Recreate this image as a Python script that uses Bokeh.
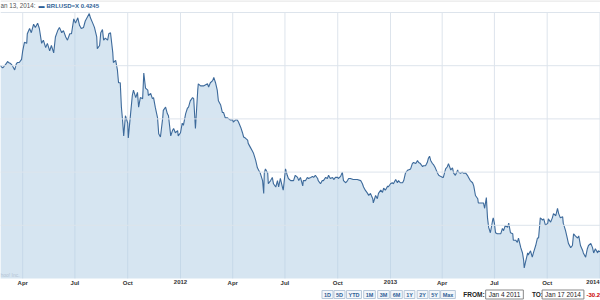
import pandas as pd
from bokeh.plotting import figure
from bokeh.models import Range1d, Label, Span
from bokeh.core.properties import value
from bokeh.embed import file_html
from bokeh.resources import INLINE

# ---------------- data ----------------
base_date = "2011-01-01"
day_offsets = [
    51, 55, 57, 60, 64, 65, 69, 72, 76, 79,
    81, 84, 88, 90, 93, 97, 98, 102, 105, 109,
    112, 116, 119, 123, 126, 130, 133, 137, 140, 144,
    147, 151, 154, 158, 161, 165, 168, 172, 175, 179,
    182, 186, 189, 192, 196, 199, 203, 206, 208, 212,
    215, 219, 220, 224,
    226, 229, 231, 234, 238, 240, 243, 247, 248, 252,
    255, 257, 260, 262, 264, 266, 269, 273, 274, 278,
    281, 283, 287, 290, 292, 295, 299, 301, 304, 308,
    309, 313, 316, 318, 321, 325, 327, 330, 334, 335,
    339, 342, 344, 348, 351, 353, 356, 360, 361, 365,
    368, 370, 374, 377, 379, 382, 386, 388, 391, 395,
    396, 400,
    405, 412, 414, 417, 421, 423, 426, 429, 431, 435,
    438, 440, 443, 447, 449, 452, 456, 457, 461, 464,
    466, 470, 473, 475, 478, 482, 483, 487, 490, 492,
    496, 499, 501, 504, 508, 510, 511, 513, 517, 518,
    522, 525, 527, 531, 534, 536, 539, 543, 544, 548,
    551, 553, 557, 562, 565, 569, 571, 574,
    578, 579, 583, 586, 588, 592, 595, 597, 600, 604,
    605, 609, 612, 614, 618, 621, 623, 626, 630, 632,
    635, 639, 640, 644, 647, 649, 653, 656, 658, 661,
    666, 673, 679, 682, 684, 687, 691, 693, 696, 700,
    701, 705, 708, 710, 714, 717, 719, 722, 726, 727,
    731, 734, 736, 740, 743, 745, 748,
    752, 754, 757, 761, 762, 766, 769, 771, 775, 778,
    780, 783, 787, 788, 792, 795, 797, 799, 801, 804,
    806, 809, 813, 815, 818, 822, 823, 827, 830, 832,
    836, 839, 841, 844, 848, 849, 853, 856, 858, 862,
    865, 867, 870, 874, 876, 879, 883, 884, 888, 891,
    893, 895, 898, 900, 902, 905, 909, 910, 912, 914,
    917, 919, 923,
    926, 928, 931, 935, 937, 940, 944, 945, 949, 952,
    954, 958, 961, 963, 964, 966, 970, 971, 975, 978,
    980, 984, 987, 989, 992, 996, 998, 1001, 1005, 1006,
    1010, 1013, 1015, 1019, 1022, 1024, 1027, 1031, 1032, 1036,
    1039, 1041, 1045, 1048, 1050, 1053, 1057, 1059, 1062, 1066,
    1067, 1071, 1074, 1076, 1080, 1083, 1085, 1088, 1092, 1093, 1097,
    1108,
]
brl_usd = [
    .600, .598, .599, .601, .604, .603, .602, .600, .596, .602,
    .603, .603, .606, .614, .622, .621, .630, .635, .631, .639,
    .636, .640, .635, .621, .624, .617, .621, .614, .619, .612,
    .627, .633, .636, .631, .633, .627, .624, .630, .630, .644,
    .640, .645, .638, .635, .636, .642, .646, .649, .645, .640,
    .636, .627, .616, .619,
    .631, .634, .624, .626, .624, .630, .631, .612, .603, .605,
    .596, .584, .584, .561, .549, .534, .553, .546, .532, .555,
    .572, .577, .570, .575, .561, .570, .569, .593, .579, .577,
    .572, .574, .569, .570, .561, .551, .536, .533, .551, .558,
    .561, .555, .553, .534, .539, .541, .537, .539, .534, .537,
    .546, .544, .555, .560, .561, .567, .570, .569, .541, .577,
    .583, .581,
    .581, .583, .580, .584, .586, .589, .584, .577, .567, .563,
    .556, .556, .551, .551, .550, .549, .549, .547, .549, .549,
    .547, .542, .537, .533, .532, .530, .527, .523, .520, .518,
    .511, .504, .502, .499, .492, .480, .499, .503, .499, .489,
    .492, .495, .489, .486, .492, .486, .494, .485, .483, .503,
    .497, .494, .492, .492, .497, .495, .492, .495,
    .487, .492, .492, .495, .494, .495, .496, .495, .497, .494,
    .492, .489, .492, .492, .495, .494, .497, .494, .495, .493,
    .495, .495, .494, .496, .500, .492, .490, .492, .494, .494,
    .493, .493, .492, .489, .486, .483, .480, .478, .480, .475,
    .471, .478, .475, .480, .483, .481, .485, .483, .487, .486,
    .489, .490, .489, .493, .490, .492, .490,
    .490, .492, .499, .502, .502, .503, .508, .509, .508, .511,
    .509, .508, .505, .506, .506, .509, .513, .515, .511, .508,
    .507, .504, .499, .497, .496, .495, .495, .503, .505, .508,
    .502, .504, .499, .497, .502, .500, .499, .500, .499, .499,
    .497, .495, .492, .490, .487, .478, .475, .471, .471, .471,
    .471, .466, .476, .457, .448, .443, .455, .457, .452, .443,
    .442, .442, .442,
    .447, .445, .450, .448, .452, .443, .442, .436, .436, .434,
    .438, .429, .424, .417, .410, .415, .424, .422, .426, .420,
    .424, .431, .438, .438, .457, .455, .456, .450, .452, .456,
    .453, .457, .461, .459, .466, .461, .457, .458, .452, .445,
    .438, .433, .429, .431, .442, .440, .438, .440, .431, .426,
    .424, .420, .428, .431, .433, .429, .424, .428, .424, .426, .425,
    .4245,
]

tick_dates = ["2011-04-01", "2011-07-01", "2011-10-01", "2012-01-01",
              "2012-04-01", "2012-07-01", "2012-10-01", "2013-01-01",
              "2013-04-01", "2013-07-01", "2013-10-01", "2014-01-01"]
tick_labels = ["Apr", "Jul", "Oct", "2012", "Apr", "Jul", "Oct", "2013",
               "Apr", "Jul", "Oct", "2014"]
y_ticks = [0.45, 0.50, 0.55, 0.60, 0.65]
y_floor = 0.40

legend_date = "an 13, 2014:"
legend_series = "BRLUSD=X 0.4245"
range_buttons = ["1D", "5D", "YTD", "1M", "3M", "6M", "1Y", "2Y", "5Y", "Max"]
from_text, from_date = "FROM:", "Jan 4 2011"
to_text, to_date = "TO:", "Jan 17 2014"
change_text = "-30.2"
credit_text = "hoo! Inc."

# ---------------- build ----------------
dates = pd.Timestamp(base_date) + pd.to_timedelta(day_offsets, unit="D")
tick_x = pd.to_datetime(tick_dates)

GRID = "#dde4ec"
FONT = "Liberation Sans"

# frame covers the whole canvas; plot band 0.40..0.65 sits at canvas y 12..278
p = figure(width=600, height=300, output_backend="svg", toolbar_location=None,
           x_axis_type="datetime",
           x_range=Range1d(pd.Timestamp("2011-02-21 07:00"), pd.Timestamp("2014-01-01 22:00")),
           y_range=Range1d(0.37932, 0.66128), min_border=0)
p.outline_line_color = None
p.axis.visible = False
p.grid.visible = False
p.background_fill_color = "white"
p.border_fill_color = "white"

# grid
for v in y_ticks:
    p.add_layout(Span(location=v, dimension="width", line_color=GRID, line_width=1))
p.segment(x0=tick_x, x1=tick_x, y0=y_floor, y1=y_ticks[-1], line_color=GRID, line_width=1)

# top thin strip
p.add_layout(Span(location=0.6610, dimension="width", line_color="#e9e9e9", line_width=2))

# series
p.varea(x=dates, y1=y_floor, y2=brl_usd, fill_color="#adcbe3", fill_alpha=0.5)
p.line(x=dates, y=brl_usd, line_color="#3d6a9b", line_width=1.1)

# x tick labels (the last one is nudged inside the canvas edge)
label_shift = [0] * (len(tick_labels) - 1) + [-7]
p.text(x=tick_x, y=[y_floor] * len(tick_x), text=tick_labels, y_offset=2,
       x_offset=label_shift,
       text_align="center", text_baseline="top", text_font=value(FONT),
       text_font_style="bold", text_font_size="6px", text_color="#333333")


def lab(x, y, text, color="#333333", size="6px", style="normal", align="left",
        bg=None, border=None, pad=0):
    p.add_layout(Label(x=x, y=y, x_units="screen", y_units="screen", text=text,
                       text_font=FONT, text_font_size=size, text_font_style=style,
                       text_color=color, text_align=align, text_baseline="middle",
                       background_fill_color=bg, border_line_color=border,
                       padding=pad))

# top legend (canvas y ~5 -> screen y 295)
lab(0, 295, legend_date, color="#555555", size="6.3px")
lab(38, 295, "\u25ac", color="#2f5f96", size="6px")
lab(46, 295, legend_series, color="#2f5f96", style="bold")

# credit watermark (canvas y ~274)
lab(0, 26, credit_text, color="#b4c4d4", size="5px")

# range buttons row (canvas y ~294 -> screen y 6)
btn_x = [327, 339, 353.5, 369, 383, 396, 409, 422, 434, 447.5]
for bx, t in zip(btn_x, range_buttons):
    lab(bx, 6, t, color="#2f5f96", size="5.5px", style="bold", align="center",
        bg="#f3f6fa", border="#b8c8da", pad=(2, 1))

lab(473.5, 6, from_text, color="#222222", size="6.5px", style="bold", align="center")
lab(504, 6, from_date, color="#222222", size="6.5px", align="center",
    bg="white", border="#888888", pad=(3, 1))
lab(537, 6, to_text, color="#222222", size="6.5px", style="bold", align="center")
lab(562.5, 6, to_date, color="#222222", size="6.5px", align="center",
    bg="white", border="#888888", pad=(3, 1))
lab(586, 6, change_text, color="#cc0000", size="6px", style="bold", align="left")

open("out.html", "w").write(file_html(p, INLINE))
